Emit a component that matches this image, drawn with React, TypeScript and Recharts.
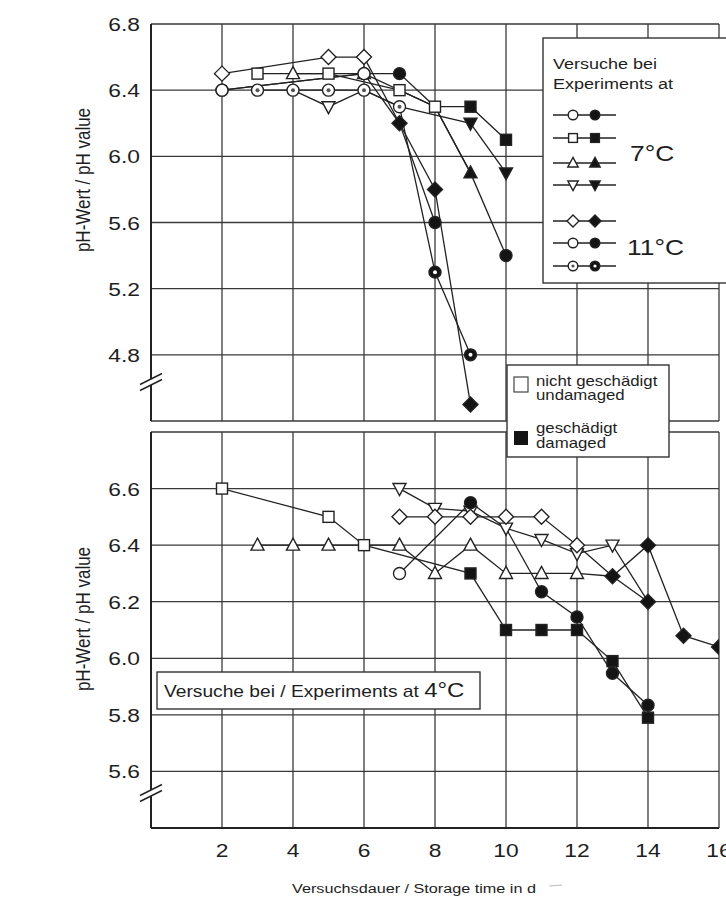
import { CartesianGrid, Line, LineChart, XAxis, YAxis } from 'recharts'

const FONT = '"Liberation Sans", Arial, Helvetica, sans-serif'
const INK = '#1e1e1e'
// the scan is a bit wider than tall, so text gets a horizontal stretch
const SX = 1.2

const dayTicks = [0, 2, 4, 6, 8, 10, 12, 14, 16]
const topPhTicks = [4.4, 4.8, 5.2, 5.6, 6.0, 6.4, 6.8]
const bottomPhTicks = [5.4, 5.6, 5.8, 6.0, 6.2, 6.4, 6.6, 6.8]

// mark: 0 = nicht geschädigt (open), 1 = geschädigt (filled), -1 = line only
// 7 °C
const circle7Days = [2, 6, 7, 8, 9, 10]
const circle7Ph = [6.4, 6.5, 6.5, 6.3, 5.9, 5.4]
const circle7Mark = [0, 0, 1, -1, -1, 1]

const square7Days = [3, 5, 7, 8, 9, 10]
const square7Ph = [6.5, 6.5, 6.4, 6.3, 6.3, 6.1]
const square7Mark = [0, 0, 0, 0, 1, 1]

const triUp7Days = [4, 6, 8, 9]
const triUp7Ph = [6.5, 6.5, 6.3, 5.9]
const triUp7Mark = [0, 0, -1, 1]

const triDown7Days = [4, 5, 6, 7, 9, 10]
const triDown7Ph = [6.4, 6.3, 6.4, 6.3, 6.2, 5.9]
const triDown7Mark = [-1, 0, -1, -1, 1, 1]

// 11 °C
const diamond11Days = [2, 5, 6, 7, 8, 9]
const diamond11Ph = [6.5, 6.6, 6.6, 6.2, 5.8, 4.5]
const diamond11Mark = [0, 0, 0, 1, 1, 1]

const circle11Days = [2, 6, 7, 8]
const circle11Ph = [6.4, 6.5, 6.2, 5.6]
const circle11Mark = [0, 0, -1, 1]

const dot11Days = [3, 4, 5, 6, 7, 8, 9]
const dot11Ph = [6.4, 6.4, 6.4, 6.4, 6.3, 5.3, 4.8]
const dot11Mark = [0, 0, 0, 0, 0, 1, 1]

// 4 °C
const square4Days = [2, 5, 6, 9, 10, 11, 12, 13, 14]
const square4Ph = [6.6, 6.5, 6.4, 6.3, 6.1, 6.1, 6.1, 5.99, 5.79]
const square4Mark = [0, 0, 0, 1, 1, 1, 1, 1, 1]

const triUp4Days = [3, 4, 5, 7, 8, 9, 10, 11, 12, 13, 14, 15, 16]
const triUp4Ph = [6.4, 6.4, 6.4, 6.4, 6.3, 6.4, 6.3, 6.3, 6.3, 6.29, 6.4, 6.08, 6.04]
const triUp4Mark = [0, 0, 0, 0, 0, 0, 0, 0, 0, -1, 1, 1, 1]

const diamond4Days = [7, 8, 9, 10, 11, 12, 13, 14]
const diamond4Ph = [6.5, 6.5, 6.5, 6.5, 6.5, 6.4, 6.29, 6.2]
const diamond4Mark = [0, 0, 0, 0, 0, 0, 1, 1]

const triDown4Days = [7, 8, 9, 10, 11, 12, 13, 14]
const triDown4Ph = [6.6, 6.53, 6.52, 6.46, 6.42, 6.37, 6.4, 6.2]
const triDown4Mark = [0, 0, 0, 0, 0, 0, 0, -1]

const circle4Days = [7, 9, 10, 11, 12, 13, 14]
const circle4Ph = [6.3, 6.55, 6.46, 6.235, 6.146, 5.947, 5.834]
const circle4Mark = [0, 1, -1, 1, 1, 1, 1]

type Shape = 'circle' | 'square' | 'triUp' | 'triDown' | 'diamond' | 'circleDot'

interface Series {
  shape: Shape
  filledShape?: Shape
  days: number[]
  ph: number[]
  mark: number[]
}

const topSeries: Series[] = [
  { shape: 'circle', days: circle7Days, ph: circle7Ph, mark: circle7Mark },
  { shape: 'square', days: square7Days, ph: square7Ph, mark: square7Mark },
  { shape: 'triUp', days: triUp7Days, ph: triUp7Ph, mark: triUp7Mark },
  { shape: 'triDown', days: triDown7Days, ph: triDown7Ph, mark: triDown7Mark },
  { shape: 'diamond', days: diamond11Days, ph: diamond11Ph, mark: diamond11Mark },
  { shape: 'circle', days: circle11Days, ph: circle11Ph, mark: circle11Mark },
  { shape: 'circleDot', days: dot11Days, ph: dot11Ph, mark: dot11Mark },
]

const bottomSeries: Series[] = [
  { shape: 'square', days: square4Days, ph: square4Ph, mark: square4Mark },
  { shape: 'triUp', filledShape: 'diamond', days: triUp4Days, ph: triUp4Ph, mark: triUp4Mark },
  { shape: 'triDown', days: triDown4Days, ph: triDown4Ph, mark: triDown4Mark },
  { shape: 'diamond', days: diamond4Days, ph: diamond4Ph, mark: diamond4Mark },
  { shape: 'circle', days: circle4Days, ph: circle4Ph, mark: circle4Mark },
]

const toPoints = (s: Series) =>
  s.days.map((day, i) => ({ day, ph: s.ph[i], mark: s.mark[i] }))

function Marker({ cx, cy, shape, filled, k = 1 }: { cx: number; cy: number; shape: Shape; filled: boolean; k?: number }) {
  const p = { fill: filled ? '#141414' : '#fff', stroke: '#222', strokeWidth: 1.4 }
  switch (shape) {
    case 'square':
      return <rect x={cx - 5.5 * k} y={cy - 5.5 * k} width={11 * k} height={11 * k} {...p} />
    case 'triUp':
      return <polygon points={`${cx},${cy - 7 * k} ${cx + 6.5 * k},${cy + 5 * k} ${cx - 6.5 * k},${cy + 5 * k}`} {...p} />
    case 'triDown':
      return <polygon points={`${cx},${cy + 7 * k} ${cx + 6.5 * k},${cy - 5 * k} ${cx - 6.5 * k},${cy - 5 * k}`} {...p} />
    case 'diamond':
      return <polygon points={`${cx},${cy - 7.5 * k} ${cx + 7.5 * k},${cy} ${cx},${cy + 7.5 * k} ${cx - 7.5 * k},${cy}`} {...p} />
    case 'circleDot':
      return (
        <g>
          <circle cx={cx} cy={cy} r={6 * k} {...p} />
          <circle cx={cx} cy={cy} r={2 * k} fill={filled ? '#fff' : '#555'} />
        </g>
      )
    default:
      return <circle cx={cx} cy={cy} r={6 * k} {...p} />
  }
}

function StretchText({ x, y, size, anchor = 'start', children }: any) {
  return (
    <text
      transform={`translate(${x},${y}) scale(${SX},1)`}
      fontSize={size}
      textAnchor={anchor}
      fill={INK}
      fontFamily={FONT}
    >
      {children}
    </text>
  )
}

const hiddenPh = (v: number, hide: number[]) => hide.some((h) => Math.abs(h - v) < 1e-6)

function makeYTick(hide: number[]) {
  return (props: any) => {
    const v = props.payload.value
    if (hiddenPh(v, hide)) return <g />
    return (
      <StretchText x={props.x} y={props.y + 7} size={19} anchor="end">
        {v.toFixed(1)}
      </StretchText>
    )
  }
}

function XTick(props: any) {
  const v = props.payload.value
  if (v === 0) return <g />
  return (
    <StretchText x={props.x} y={props.y + 14} size={19} anchor="middle">
      {v}
    </StretchText>
  )
}

function renderLines(series: Series[], prefix: string) {
  return series.map((s, si) => (
    <Line
      key={`${prefix}${si}`}
      data={toPoints(s)}
      dataKey="ph"
      type="linear"
      stroke="#222"
      strokeWidth={1.3}
      isAnimationActive={false}
      activeDot={false}
      legendType="none"
      dot={(p: any) => {
        const k = `${prefix}${si}-${p.index}`
        if (p.payload.mark < 0) return <g key={k} />
        const filled = p.payload.mark === 1
        const shape = filled && s.filledShape ? s.filledShape : s.shape
        return (
          <g key={k}>
            <Marker cx={p.cx} cy={p.cy} shape={shape} filled={filled} />
          </g>
        )
      }}
    />
  ))
}

function AxisBreak({ x, y }: { x: number; y: number }) {
  return (
    <g>
      <polygon points={`${x - 10},${y + 4} ${x + 10},${y - 6} ${x + 10},${y} ${x - 10},${y + 10}`} fill="#fff" />
      <line x1={x - 11} y1={y + 4.5} x2={x + 11} y2={y - 6.5} stroke="#222" strokeWidth={1.4} />
      <line x1={x - 11} y1={y + 10.5} x2={x + 11} y2={y - 0.5} stroke="#222" strokeWidth={1.4} />
    </g>
  )
}

const legendRowsY = [115, 138, 163, 185, 221, 243, 266]

export default function App() {
  return (
    <div
      style={{
        position: 'absolute',
        left: 0,
        top: 0,
        width: 726,
        height: 899,
        overflow: 'hidden',
        background: '#fff',
        fontFamily: FONT,
      }}
    >
      <div style={{ position: 'absolute', left: 0, top: 0 }}>
        <LineChart width={726} height={425} margin={{ top: 24, right: 7, left: 0, bottom: 4 }}>
          <CartesianGrid stroke="#3a3a3a" strokeWidth={1.3} />
          <XAxis type="number" dataKey="day" domain={[0, 16]} ticks={dayTicks} hide allowDataOverflow />
          <YAxis
            type="number"
            domain={[4.4, 6.8]}
            ticks={topPhTicks}
            interval={0}
            width={151}
            allowDataOverflow
            axisLine={{ stroke: '#222', strokeWidth: 2 }}
            tickLine={false}
            tickSize={6}
            tickMargin={5}
            tick={makeYTick([4.4])}
          />
          {renderLines(topSeries, 't')}
        </LineChart>
      </div>

      <div style={{ position: 'absolute', left: 0, top: 408 }}>
        <LineChart width={726} height={491} margin={{ top: 24, right: 7, left: 0, bottom: 31 }}>
          <CartesianGrid stroke="#3a3a3a" strokeWidth={1.3} />
          <XAxis
            type="number"
            dataKey="day"
            domain={[0, 16]}
            ticks={dayTicks}
            interval={0}
            height={40}
            allowDataOverflow
            axisLine={{ stroke: '#222', strokeWidth: 2 }}
            tickLine={false}
            tickSize={6}
            tickMargin={9}
            tick={XTick}
          />
          <YAxis
            type="number"
            domain={[5.4, 6.8]}
            ticks={bottomPhTicks}
            interval={0}
            width={151}
            allowDataOverflow
            axisLine={{ stroke: '#222', strokeWidth: 2 }}
            tickLine={false}
            tickSize={6}
            tickMargin={5}
            tick={makeYTick([5.4, 6.8])}
          />
          {renderLines(bottomSeries, 'b')}
        </LineChart>
      </div>

      <svg width={726} height={899} style={{ position: 'absolute', left: 0, top: 0 }}>
        <AxisBreak x={151} y={380} />
        <AxisBreak x={151} y={791} />

        {/* axis titles */}
        <text transform="translate(90,180) rotate(-90) scale(1,1.2)" textAnchor="middle" fontSize={17} fill={INK} fontFamily={FONT}>
          pH-Wert / pH value
        </text>
        <text transform="translate(90,619) rotate(-90) scale(1,1.2)" textAnchor="middle" fontSize={17} fill={INK} fontFamily={FONT}>
          pH-Wert / pH value
        </text>
        <StretchText x={414} y={893} size={13.5} anchor="middle">
          Versuchsdauer / Storage time in d
        </StretchText>
        <line x1={549} y1={886} x2={562} y2={885} stroke="#bbb" strokeWidth={1.2} />

        {/* 7 / 11 °C legend */}
        <rect x={543} y={38} width={200} height={245} fill="#fff" stroke="#333" strokeWidth={1.4} />
        <StretchText x={553} y={69} size={15}>Versuche bei</StretchText>
        <StretchText x={553} y={89} size={15}>Experiments at</StretchText>
        {topSeries.map((s, i) => (
          <g key={`lg${i}`}>
            <line x1={553} y1={legendRowsY[i]} x2={616} y2={legendRowsY[i]} stroke="#222" strokeWidth={1.3} />
            <Marker cx={573} cy={legendRowsY[i]} shape={s.shape} filled={false} k={0.8} />
            <Marker cx={595} cy={legendRowsY[i]} shape={s.shape} filled k={0.8} />
          </g>
        ))}
        <StretchText x={630} y={161} size={22}>7°C</StretchText>
        <StretchText x={627} y={255} size={22}>11°C</StretchText>

        {/* damage legend */}
        <rect x={507} y={365} width={162} height={92} fill="#fff" stroke="#333" strokeWidth={1.4} />
        <rect x={514} y={377} width={14} height={15} fill="#fff" stroke="#444" strokeWidth={1.2} />
        <StretchText x={536} y={386} size={14}>nicht geschädigt</StretchText>
        <StretchText x={536} y={400} size={14}>undamaged</StretchText>
        <rect x={514} y={431} width={14} height={14} fill="#141414" />
        <StretchText x={536} y={433} size={14}>geschädigt</StretchText>
        <StretchText x={536} y={448} size={14}>damaged</StretchText>

        {/* 4 °C label */}
        <rect x={157} y={672} width={323} height={37} fill="#fff" stroke="#333" strokeWidth={1.4} />
        <text transform={`translate(164,697) scale(${SX},1)`} fontSize={16} fill={INK} fontFamily={FONT}>
          Versuche bei / Experiments at <tspan fontSize={20}>4°C</tspan>
        </text>
      </svg>
    </div>
  )
}
